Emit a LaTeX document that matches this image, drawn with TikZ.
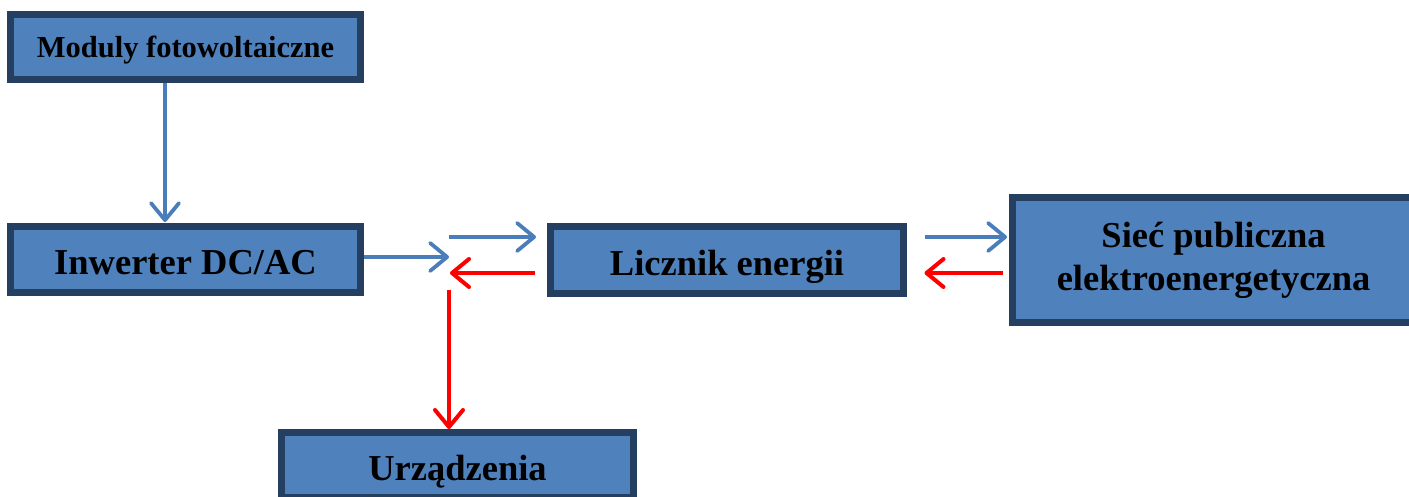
\documentclass[tikz,border=0pt]{standalone}
\usepackage{fontspec}
\setmainfont{Liberation Serif}
\usetikzlibrary{arrows.meta}
\definecolor{boxfill}{HTML}{4F81BD}
\definecolor{boxline}{HTML}{243F60}
\definecolor{arrblue}{HTML}{4A7EBB}
\definecolor{arrred}{HTML}{FF0000}
\tikzset{
  box/.style={draw=boxline, line width=7pt, fill=boxfill, inner sep=0pt,
    align=center, font=\bfseries\fontsize{36.5}{43}\selectfont},
  oneline/.style={text height=31pt, text depth=0pt},
  flow/.style={line width=3.8pt, -{Straight Barb[length=17pt,width=28pt,round]}},
  bluearr/.style={flow, draw=arrblue},
  redarr/.style={flow, draw=arrred, line width=4pt},
}
\begin{document}
\begin{tikzpicture}[x=1pt, y=-1pt]
\useasboundingbox (0,0) rectangle (1409,497);
\clip (0,0) rectangle (1409,497);
\node[box, minimum width=350pt, minimum height=65pt, text height=22pt, text depth=0pt, font=\bfseries\fontsize{30.5}{36}\selectfont] (mod) at (185.5,47) {Moduly fotowoltaiczne};
\node[box, oneline, minimum width=350pt, minimum height=66pt] (inw) at (185.5,259.5) {Inwerter DC/AC};
\node[box, oneline, minimum width=353pt, minimum height=67pt] (lic) at (727,260) {Licznik energii};
\node[box, minimum width=402pt, minimum height=125pt] (sie) at (1213.5,260) {Sieć publiczna\\elektroenergetyczna};
\node[box, oneline, minimum width=352pt, minimum height=65pt] (urz) at (457.5,465) {Urządzenia};
\coordinate (cx) at (165,0);
\coordinate (jin) at (449,257);
\coordinate (jb) at (449,237);
\coordinate (jr) at (450,273);
\coordinate (jd) at (449,290);
\draw[bluearr, shorten >=1pt] (mod.south -| cx) -- (inw.north -| cx);
\draw[bluearr] (inw.east |- jin) -- (jin);
\draw[bluearr, shorten >=11pt] (jb) -- (lic.west |- jb);
\draw[redarr, shorten <=12.5pt] (lic.west |- jr) -- (jr);
\draw[redarr, shorten >=0pt] (jd) -- (urz.north -| jd);
\draw[bluearr, shorten <=17.5pt, shorten >=2pt] (lic.east |- jb) -- (sie.west |- jb);
\draw[redarr, shorten <=6.5pt, shorten >=17.5pt] (sie.west |- jr) -- (lic.east |- jr);
\end{tikzpicture}
\end{document}
